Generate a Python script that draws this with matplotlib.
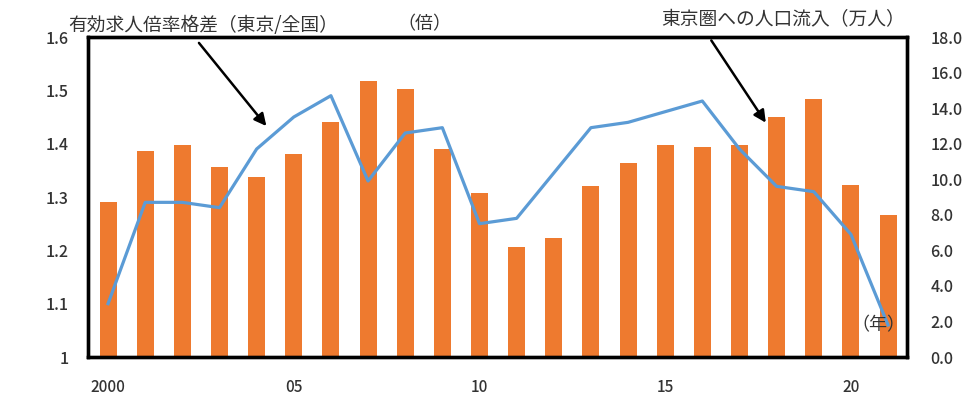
import numpy as np
import matplotlib
matplotlib.use("Agg")
import matplotlib.pyplot as plt

plt.rcParams['font.family'] = ['Noto Sans CJK JP', 'DejaVu Sans']

# 年（2000〜2021）
years = list(range(2000, 2022))
# 東京圏への人口流入（万人）
inflow = [8.7, 11.6, 11.9, 10.7, 10.1, 11.4, 13.2, 15.5, 15.1, 11.7, 9.2,
          6.2, 6.7, 9.6, 10.9, 11.9, 11.8, 11.9, 13.5, 14.5, 9.7, 8.0]
# 有効求人倍率格差（東京/全国）
ratio = [1.10, 1.29, 1.29, 1.28, 1.39, 1.45, 1.49, 1.33, 1.42, 1.43, 1.25,
         1.26, 1.345, 1.43, 1.44, 1.46, 1.48, 1.39, 1.32, 1.31, 1.23, 1.06]

xtick_pos = [0, 5, 10, 15, 20]
xtick_lab = ['2000', '05', '10', '15', '20']
left_ticks = [1.0, 1.1, 1.2, 1.3, 1.4, 1.5, 1.6]
left_lab = ['1', '1.1', '1.2', '1.3', '1.4', '1.5', '1.6']
right_ticks = np.arange(0, 18.1, 2)

orange = '#EE7A2F'
blue = '#5B9BD5'
txt = '#333333'

fig = plt.figure(figsize=(9.8, 4.05), dpi=100)
ax = fig.add_axes([0.0898, 0.1185, 0.8357, 0.7901])
ax2 = ax.twinx()

x = np.arange(len(years))
ax2.bar(x, inflow, width=0.46, color=orange)
ax.plot(x, ratio, color=blue, lw=2.3, solid_joinstyle='round')

# 折れ線を棒の前面に
ax.set_zorder(ax2.get_zorder() + 1)
ax.patch.set_visible(False)

ax.set_xlim(-0.54, 21.51)
ax.set_ylim(1.0, 1.6)
ax2.set_ylim(0, 18)

ax.set_xticks(xtick_pos)
ax.set_xticklabels(xtick_lab)
ax.set_yticks(left_ticks)
ax.set_yticklabels(left_lab)
ax2.set_yticks(right_ticks)
ax2.set_yticklabels(['%.1f' % v for v in right_ticks])

ax.tick_params(axis='x', length=0, pad=16, labelsize=11, labelcolor=txt)
ax.tick_params(axis='y', length=0, pad=14, labelsize=11.5, labelcolor=txt)
ax2.tick_params(axis='y', length=0, pad=17, labelsize=11.5, labelcolor=txt)
for lab in ax.get_xticklabels() + ax.get_yticklabels() + ax2.get_yticklabels():
    lab.set_fontweight('medium')

for a in (ax, ax2):
    for s in a.spines.values():
        s.set_color('black')
        s.set_linewidth(2.4)

fig.text(68 / 980, 1 - 26 / 405, '有効求人倍率格差（東京/全国）', fontsize=13.5,
         color=txt, va='center', ha='left')
fig.text(424 / 980, 1 - 24 / 405, '（倍）', fontsize=13, color=txt,
         va='center', ha='center')
fig.text(905 / 980, 1 - 20 / 405, '東京圏への人口流入（万人）', fontsize=13.5,
         color=txt, va='center', ha='right')
ax.text(20.75, 1.06, '（年）', fontsize=13, color=txt, ha='center', va='center')

arrow = dict(arrowstyle='-|>', color='black', lw=1.8, mutation_scale=18)
ax.annotate('', xy=(4.31, 1.429), xytext=(2.40, 1.593), arrowprops=arrow)
ax.annotate('', xy=(17.75, 1.435), xytext=(16.20, 1.598), arrowprops=arrow,
            annotation_clip=False)

fig.savefig('out.png', dpi=100)
